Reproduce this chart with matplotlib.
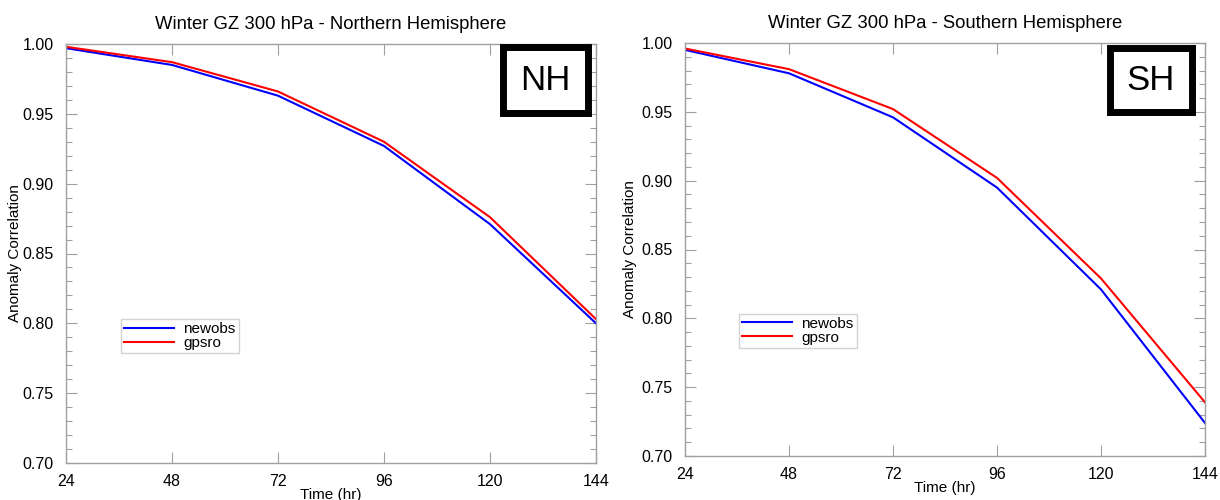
import matplotlib
matplotlib.use("Agg")
import matplotlib.pyplot as plt
from matplotlib.ticker import MultipleLocator
from matplotlib.patches import Rectangle

hours = [24, 48, 72, 96, 120, 144]
nh_newobs = [0.997, 0.985, 0.963, 0.927, 0.871, 0.800]
nh_gpsro = [0.998, 0.987, 0.966, 0.930, 0.876, 0.803]
sh_newobs = [0.995, 0.978, 0.946, 0.895, 0.821, 0.724]
sh_gpsro = [0.996, 0.981, 0.952, 0.902, 0.829, 0.739]
titles = ["Winter GZ 300 hPa - Northern Hemisphere", "Winter GZ 300 hPa - Southern Hemisphere"]
tags = ["NH", "SH"]

plt.rcParams['font.family'] = ['Liberation Sans', 'DejaVu Sans']

fig = plt.figure(figsize=(12.2, 5.0), dpi=100)
# pixel boxes: (left, top, right, bottom)
boxes = [(66, 44, 596, 463), (685, 43, 1205, 456)]
tagboxes = [(503, 47, 588, 113), (1110, 48, 1192, 112)]
ylabel_x = [22, 637]
series = [(nh_newobs, nh_gpsro), (sh_newobs, sh_gpsro)]
W, H = 1220, 500
gray = '#a0a0a0'

for i in range(2):
    l, t, r, b = boxes[i]
    ax = fig.add_axes([l / W, (H - b) / H, (r - l) / W, (b - t) / H])
    nw, gp = series[i]
    ax.plot(hours, nw, color='#0000ff', lw=1.5, label='newobs')
    ax.plot(hours, gp, color='#ff0000', lw=1.5, label='gpsro')
    ax.set_xlim(24, 144)
    ax.set_ylim(0.70, 1.00)
    ax.set_xticks(hours)
    ax.yaxis.set_major_locator(MultipleLocator(0.05))
    ax.yaxis.set_minor_locator(MultipleLocator(0.01))
    ax.set_yticklabels([f"{v:.2f}" for v in ax.get_yticks()])
    for s in ax.spines.values():
        s.set_color(gray)
        s.set_linewidth(1.0)
    ax.tick_params(which='major', direction='in', length=8, width=0.8, color=gray,
                   top=True, right=True, labelsize=11.5)
    ax.tick_params(which='minor', direction='in', length=4, width=0.8, color=gray,
                   top=False, right=True, bottom=False)
    ax.tick_params(axis='x', which='major', pad=8)
    ax.tick_params(axis='y', which='major', pad=9)
    ax.set_title(titles[i], fontsize=13.3, pad=11)
    ax.set_ylabel('Anomaly Correlation', fontsize=11)
    ax.yaxis.set_label_coords((ylabel_x[i] - l) / (r - l), 0.5)
    ax.set_xlabel('Time (hr)', fontsize=11, labelpad=-1)
    leg = ax.legend(loc='lower left', bbox_to_anchor=(0.103, 0.262), fontsize=11,
                    frameon=True, fancybox=False, handlelength=3.3, borderpad=0.2,
                    labelspacing=0.0, handletextpad=0.6, borderaxespad=0)
    leg.get_frame().set_edgecolor('#c8c8c8')
    leg.get_frame().set_linewidth(1.0)
    tl, tt, tr, tb = tagboxes[i]
    rect = Rectangle((tl / W, (H - tb) / H), (tr - tl) / W, (tb - tt) / H,
                     transform=fig.transFigure, facecolor='white', edgecolor='black',
                     linewidth=5, zorder=5)
    fig.add_artist(rect)
    fig.text((tl + tr) / 2 / W, (H - (tt + tb) / 2) / H, tags[i], fontsize=25,
             ha='center', va='center', zorder=6)

fig.savefig('out.png', dpi=100)
